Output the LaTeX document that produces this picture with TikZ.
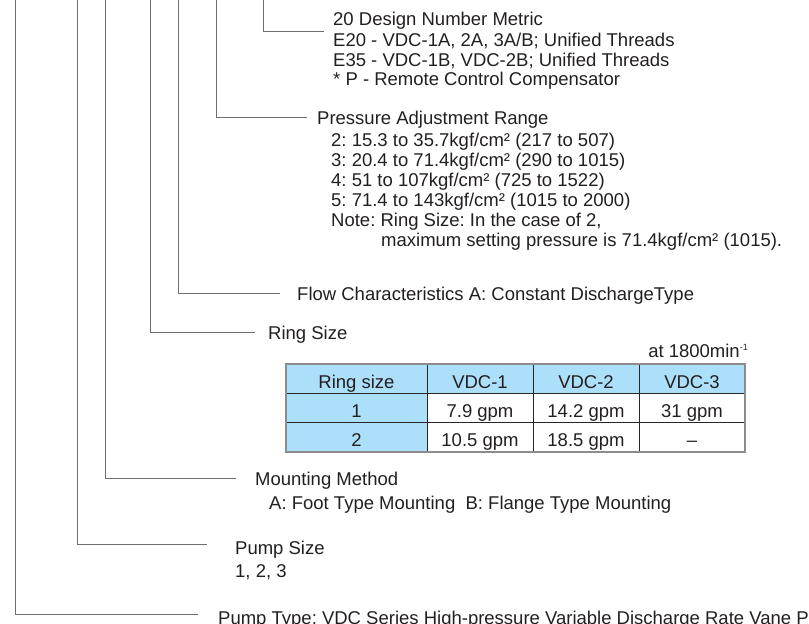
\documentclass[tikz,border=0pt]{standalone}
\usepackage{fontspec}
\setmainfont{Liberation Sans}
\frenchspacing
\definecolor{leadgray}{RGB}{110,110,110}
\definecolor{textgray}{RGB}{35,31,32}
\definecolor{cellblue}{RGB}{172,223,249}
\definecolor{framegray}{RGB}{140,140,140}
\tikzset{
  leader/.style = {draw=leadgray, line width=0.9pt},
  label/.style = {anchor=base west, inner sep=0pt, text=textgray, font=\fontsize{18.5}{20}\selectfont},
  cell/.style = {anchor=base, inner sep=0pt, text=textgray, font=\fontsize{18.5}{20}\selectfont},
  grid/.style = {draw=black!85, line width=0.8pt}
}

\begin{document}
\begin{tikzpicture}[x=1pt, y=-1pt]
\useasboundingbox (0,0) rectangle (809,624);
\clip (0,0) rectangle (809,624);
% LEADER ENDS
\coordinate (Design-Top) at (263,0);   \coordinate (Design-End) at (324,31);
\coordinate (Press-Top) at (216,0);    \coordinate (Press-End) at (307,117);
\coordinate (Flow-Top) at (178,0);     \coordinate (Flow-End) at (280,293);
\coordinate (Ring-Top) at (150,0);     \coordinate (Ring-End) at (255,332);
\coordinate (Mount-Top) at (105,0);    \coordinate (Mount-End) at (236,478);
\coordinate (Size-Top) at (77,0);      \coordinate (Size-End) at (207,544);
\coordinate (Type-Top) at (15,0);      \coordinate (Type-End) at (198,614);
% LEADERS
\draw [leader] (Design-Top) |- (Design-End);
\draw [leader] (Press-Top) |- (Press-End);
\draw [leader] (Flow-Top) |- (Flow-End);
\draw [leader] (Ring-Top) |- (Ring-End);
\draw [leader] (Mount-Top) |- (Mount-End);
\draw [leader] (Size-Top) |- (Size-End);
\draw [leader] (Type-Top) |- (Type-End);
% DESIGN NUMBER
\node[label](Design-Text) at (333,25){20 Design Number Metric};
\node[label](Design-E20) at (333,46.5){E20 - VDC-1A, 2A, 3A/B; Unified Threads};
\node[label](Design-E35) at (333,66){E35 - VDC-1B, VDC-2B; Unified Threads};
\node[label](Design-P) at (333,85.5){* P - Remote Control Compensator};
% PRESSURE RANGE
\node[label](Press-Text) at (317,124){Pressure Adjustment Range};
\node[label](Press-2) at (331,146){2: 15.3 to 35.7kgf/cm² (217 to 507)};
\node[label](Press-3) at (331,166){3: 20.4 to 71.4kgf/cm² (290 to 1015)};
\node[label](Press-4) at (331,186){4: 51 to 107kgf/cm² (725 to 1522)};
\node[label](Press-5) at (331,206){5: 71.4 to 143kgf/cm² (1015 to 2000)};
\node[label](Press-Note) at (331,226){Note: Ring Size: In the case of 2,};
\node[label](Press-Max) at (381,246){maximum setting pressure is 71.4kgf/cm² (1015).};
% FLOW
\node[label](Flow-Text) at (297,300){Flow Characteristics A: Constant DischargeType};
% RING SIZE
\node[label](Ring-Text) at (268,339.5){Ring Size};
\node[anchor=base east, inner sep=0pt, text=textgray, font=\fontsize{18.5}{20}\selectfont](Ring-Speed) at (748,357){at 1800min\raisebox{7pt}{\fontsize{9}{9}\selectfont -1}};
% RING TABLE
\fill[cellblue] (286,364) rectangle (745,393);
\fill[cellblue] (286,393) rectangle (427,452);
\draw [grid] (286,393) -- (745,393);
\draw [grid] (286,422) -- (745,422);
\draw [grid] (427,364) -- (427,452);
\draw [grid] (533,364) -- (533,452);
\draw [grid] (639,364) -- (639,452);
\draw [draw=framegray, line width=1.5pt] (286,364) rectangle (745,452);
\node[cell](Head-Ring) at (356.5,388){Ring size};
\node[cell](Head-One) at (480,388){VDC-1};
\node[cell](Head-Two) at (586,388){VDC-2};
\node[cell](Head-Three) at (692,388){VDC-3};
\node[cell](Row-A-Ring) at (356.5,417.5){1};
\node[cell](Row-A-One) at (480,417.5){7.9 gpm};
\node[cell](Row-A-Two) at (586,417.5){14.2 gpm};
\node[cell](Row-A-Three) at (692,417.5){31 gpm};
\node[cell](Row-B-Ring) at (356.5,446){2};
\node[cell](Row-B-One) at (480,446){10.5 gpm};
\node[cell](Row-B-Two) at (586,446){18.5 gpm};
\node[cell](Row-B-Three) at (692,446){–};
% MOUNTING
\node[label](Mount-Text) at (255,485.5){Mounting Method};
\node[label](Mount-Kind) at (269,509.5){A: Foot Type Mounting\ \ B: Flange Type Mounting};
% PUMP SIZE
\node[label](Size-Text) at (235,554.5){Pump Size};
\node[label](Size-List) at (235,577.5){1, 2, 3};
% PUMP TYPE
\node[label](Type-Text) at (218,624.5){Pump Type: VDC Series High-pressure Variable Discharge Rate Vane P};
\end{tikzpicture}
\end{document}
